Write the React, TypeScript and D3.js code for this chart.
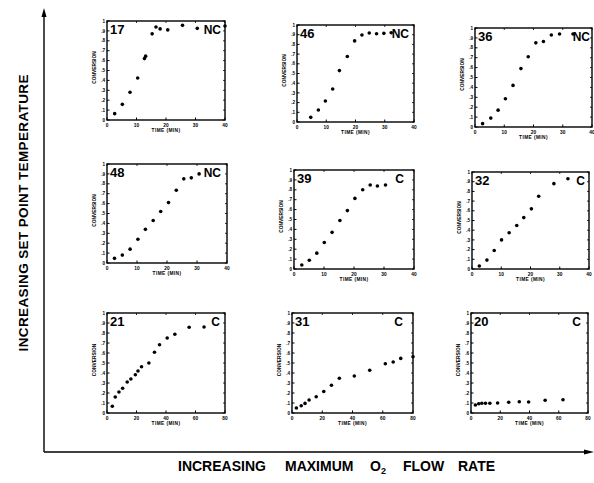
import React from "react";
import * as d3 from "d3";

// Run identifiers and regime (NC = not controlled, C = controlled), row by row
const panelIds = ["17", "46", "36", "48", "39", "32", "21", "31", "20"];
const regimes = ["NC", "NC", "NC", "NC", "C", "C", "C", "C", "C"];
const timeMax = [40, 40, 40, 40, 40, 40, 80, 80, 80];
const timeTicks40 = [0, 10, 20, 30, 40];
const timeTicks80 = [0, 20, 40, 60, 80];
const conversionTicks = [0, 0.1, 0.2, 0.3, 0.4, 0.5, 0.6, 0.7, 0.8, 0.9, 1];
const conversionTickLabels = ["0", ".1", ".2", ".3", ".4", ".5", ".6", ".7", ".8", ".9", "1"];

// Conversion vs time (min) for each run
const time17 = [2.6, 5.2, 7.8, 10.4, 12.7, 13.1, 15.3, 16.6, 18.0, 20.6, 25.6, 30.6, 40];
const conv17 = [0.064, 0.158, 0.28, 0.424, 0.62, 0.645, 0.87, 0.94, 0.92, 0.91, 0.956, 0.926, 0.95];

const time46 = [4.7, 7.3, 9.7, 12.2, 14.5, 17.2, 19.7, 22.2, 24.7, 27.2, 29.7, 32.2];
const conv46 = [0.048, 0.123, 0.216, 0.34, 0.53, 0.675, 0.836, 0.897, 0.918, 0.91, 0.914, 0.92];

const time36 = [2.6, 5.4, 7.9, 10.4, 13.0, 15.7, 18.2, 20.8, 23.4, 26.1, 28.9, 33.5];
const conv36 = [0.034, 0.09, 0.17, 0.285, 0.42, 0.59, 0.71, 0.85, 0.864, 0.93, 0.94, 0.94];

const time48 = [2.5, 5.1, 7.7, 10.3, 12.8, 15.4, 17.9, 20.5, 23.1, 25.6, 28.1, 30.7];
const conv48 = [0.047, 0.08, 0.14, 0.24, 0.34, 0.43, 0.52, 0.61, 0.735, 0.85, 0.86, 0.9];

const time39 = [2.6, 5.1, 7.6, 10.1, 12.7, 15.3, 17.8, 20.3, 22.9, 25.4, 27.8, 30.5];
const conv39 = [0.04, 0.088, 0.16, 0.267, 0.37, 0.49, 0.59, 0.713, 0.8, 0.848, 0.838, 0.848];

const time32 = [2.5, 5.1, 7.6, 10.1, 12.7, 15.3, 17.7, 20.3, 22.8, 28.0, 32.8];
const conv32 = [0.031, 0.092, 0.19, 0.3, 0.373, 0.449, 0.53, 0.62, 0.75, 0.88, 0.93];

const time21 = [3.6, 5.6, 8.1, 10.6, 13.7, 16.2, 19.2, 21.0, 23.4, 28.4, 32.2, 35.6, 40.8, 46.0, 55.7, 65.8];
const conv21 = [0.067, 0.16, 0.21, 0.247, 0.31, 0.34, 0.383, 0.42, 0.463, 0.5, 0.607, 0.683, 0.75, 0.787, 0.857, 0.86];

const time31 = [2.9, 6.1, 8.6, 11.3, 16.0, 21.0, 26.1, 31.3, 41.2, 51.4, 61.7, 66.9, 71.9, 80];
const conv31 = [0.05, 0.073, 0.096, 0.13, 0.162, 0.215, 0.278, 0.348, 0.37, 0.427, 0.493, 0.51, 0.546, 0.563];

const time20 = [3.0, 5.3, 7.4, 9.9, 12.9, 18.2, 25.8, 33.0, 39.4, 50.7, 62.9];
const conv20 = [0.08, 0.093, 0.097, 0.097, 0.097, 0.1, 0.107, 0.113, 0.11, 0.127, 0.133];

const seriesTimes = [time17, time46, time36, time48, time39, time32, time21, time31, time20];
const seriesConversions = [conv17, conv46, conv36, conv48, conv39, conv32, conv21, conv31, conv20];

// Plot frame of each small panel
const frames = [
  { x: 107, y: 21, w: 118, h: 99 },
  { x: 297, y: 25, w: 117, h: 97 },
  { x: 475, y: 28, w: 117, h: 99 },
  { x: 107, y: 164, w: 120, h: 99 },
  { x: 294, y: 170, w: 120, h: 99 },
  { x: 472, y: 172, w: 117, h: 97 },
  { x: 107, y: 313, w: 118, h: 100 },
  { x: 292, y: 313, w: 121, h: 100 },
  { x: 471, y: 313, w: 117, h: 100 },
];
// extra inset of the regime tag from the frame's right edge
const regimeInset = [2, 3, 0, 4, 8, 2, 3, 8, 5];

const FONT = "'Liberation Sans', Arial, Helvetica, sans-serif";

function Panel({ i }: { i: number }) {
  const f = frames[i];
  const x = d3.scaleLinear().domain([0, timeMax[i]]).range([f.x, f.x + f.w]);
  const y = d3.scaleLinear().domain([0, 1]).range([f.y + f.h, f.y]);
  const xt = timeMax[i] === 40 ? timeTicks40 : timeTicks80;
  const ts = seriesTimes[i];
  const cs = seriesConversions[i];
  return (
    <g>
      <rect x={f.x} y={f.y} width={f.w} height={f.h} fill="none" stroke="#000" strokeWidth={1.4} />
      {conversionTicks.map((v, k) => (
        <g key={"y" + k}>
          <line x1={f.x} x2={f.x + 2.5} y1={y(v)} y2={y(v)} stroke="#000" strokeWidth={1} />
          <line x1={f.x + f.w} x2={f.x + f.w - 2} y1={y(v)} y2={y(v)} stroke="#000" strokeWidth={0.8} />
          <text x={f.x - 2} y={y(v) + 1.6} fontSize={4.6} fontWeight="bold" textAnchor="end" fontFamily={FONT}>
            {conversionTickLabels[k]}
          </text>
        </g>
      ))}
      {xt.map((v) => (
        <g key={"x" + v}>
          <line x1={x(v)} x2={x(v)} y1={f.y + f.h} y2={f.y + f.h - 2.5} stroke="#000" strokeWidth={1} />
          <line x1={x(v)} x2={x(v)} y1={f.y} y2={f.y + 2} stroke="#000" strokeWidth={0.8} />
          <text x={x(v)} y={f.y + f.h + 6.5} fontSize={4.8} fontWeight="bold" textAnchor="middle" fontFamily={FONT}>
            {v}
          </text>
        </g>
      ))}
      <text
        x={f.x + f.w / 2}
        y={f.y + f.h + 12}
        fontSize={4.8}
        fontWeight="bold"
        textAnchor="middle"
        fontFamily={FONT}
        letterSpacing={0.4}
      >
        TIME (MIN)
      </text>
      <text
        transform={`translate(${f.x - 11},${f.y + f.h / 2 - 3}) rotate(-90)`}
        fontSize={4.8}
        fontWeight="bold"
        textAnchor="middle"
        fontFamily={FONT}
      >
        CONVERSION
      </text>
      <text x={f.x + 3} y={f.y + 13} fontSize={13} fontWeight="bold" fontFamily={FONT}>
        {panelIds[i]}
      </text>
      <text
        x={f.x + f.w - 2 - regimeInset[i]}
        y={f.y + 13}
        fontSize={12}
        fontWeight="bold"
        textAnchor="end"
        fontFamily={FONT}
      >
        {regimes[i]}
      </text>
      {ts.map((t, k) => (
        <circle key={k} cx={x(t)} cy={y(cs[k])} r={1.8} fill="#000" />
      ))}
    </g>
  );
}

export default function App() {
  const W = 594;
  const H = 483;
  return (
    <svg
      width={W}
      height={H}
      viewBox={`0 0 ${W} ${H}`}
      style={{ position: "absolute", left: 0, top: 0, background: "#fff" }}
    >
      <rect x={0} y={0} width={W} height={H} fill="#fff" />
      {/* outer axes with arrowheads */}
      <line x1={44} y1={452} x2={44} y2={14} stroke="#000" strokeWidth={1.4} />
      <path d="M44,8 L41.5,17 L46.5,17 Z" fill="#000" />
      <line x1={44} y1={452} x2={586} y2={452} stroke="#000" strokeWidth={1.4} />
      <path d="M594,452 L584,449.5 L584,454.5 Z" fill="#000" />
      <text
        transform="translate(28,213) rotate(-90)"
        fontSize={13.5}
        fontWeight="bold"
        textAnchor="middle"
        fontFamily={FONT}
        textLength={277}
        lengthAdjust="spacing"
      >
        INCREASING SET POINT TEMPERATURE
      </text>
      <text x={178} y={471} fontSize={14} fontWeight="bold" fontFamily={FONT}>
        <tspan x={178}>INCREASING</tspan>
        <tspan x={285}>MAXIMUM</tspan>
        <tspan x={370}>O</tspan>
        <tspan dy={3} fontSize={9}>2</tspan>
        <tspan x={403} dy={-3}>FLOW</tspan>
        <tspan x={458}>RATE</tspan>
      </text>
      {panelIds.map((_, i) => (
        <Panel key={i} i={i} />
      ))}
    </svg>
  );
}
